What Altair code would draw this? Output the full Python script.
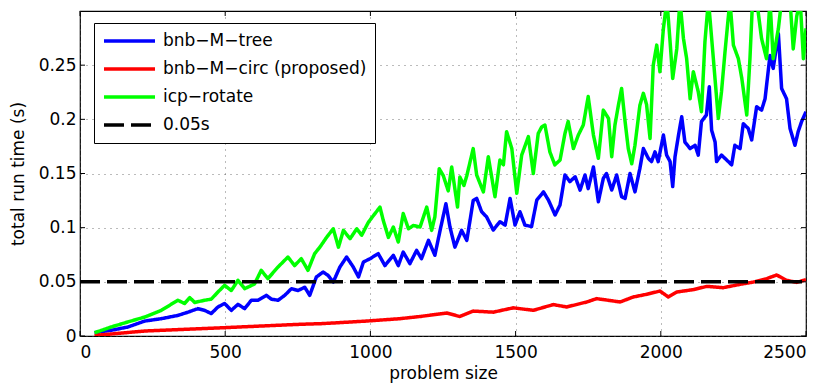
import altair as alt
import pandas as pd

# ---- data ----
tree_x = [50, 108, 165, 223, 280, 337, 372, 406, 429, 452, 475, 498, 521, 544, 567, 590, 613, 642, 659, 682,
          705, 728, 751, 774, 791, 814, 837, 854, 872, 895, 918, 941, 959, 976, 999, 1027, 1050, 1079, 1096,
          1113, 1136, 1159, 1176, 1200, 1222, 1240, 1260, 1274, 1291, 1314, 1332, 1354, 1366, 1383, 1400,
          1423, 1446, 1464, 1481, 1498, 1515, 1532, 1555, 1573, 1596, 1613, 1636, 1653, 1670, 1687, 1705,
          1722, 1739, 1750, 1768, 1785, 1802, 1813, 1831, 1848, 1865, 1877, 1894, 1911, 1928, 1940, 1957,
          1968, 1980, 1991, 2009, 2020, 2032, 2041, 2049, 2061, 2072, 2083, 2101, 2118, 2129, 2140, 2157,
          2167, 2175, 2187, 2192, 2209, 2227, 2244, 2255, 2273, 2284, 2301, 2313, 2330, 2347, 2359, 2376,
          2387, 2405, 2416, 2433, 2445, 2462, 2473, 2485, 2500]
tree_y = [0.003, 0.0053, 0.0083, 0.0138, 0.016, 0.019, 0.022, 0.0253, 0.0237, 0.0207, 0.0268, 0.030, 0.0237,
          0.0292, 0.0253, 0.033, 0.033, 0.0375, 0.034, 0.033, 0.0375, 0.0437, 0.042, 0.045, 0.0375, 0.0545,
          0.059, 0.056, 0.0498, 0.0637, 0.0729, 0.0637, 0.0545, 0.0683, 0.0714, 0.076, 0.065, 0.0745, 0.065,
          0.0775, 0.0668, 0.079, 0.0714, 0.0883, 0.0745, 0.0975, 0.122, 0.1006, 0.082, 0.0975, 0.0883, 0.125,
          0.127, 0.1147, 0.110, 0.0978, 0.1055, 0.1024, 0.127, 0.1024, 0.1147, 0.1024, 0.101, 0.1255, 0.133,
          0.1255, 0.1117, 0.121, 0.1486, 0.1425, 0.147, 0.1347, 0.1486, 0.136, 0.156, 0.124, 0.1455, 0.150,
          0.1347, 0.1486, 0.1286, 0.127, 0.150, 0.133, 0.1547, 0.173, 0.164, 0.161, 0.170, 0.161, 0.1855,
          0.167, 0.161, 0.138, 0.1655, 0.1855, 0.2024, 0.179, 0.173, 0.176, 0.167, 0.198, 0.204, 0.230, 0.190,
          0.179, 0.161, 0.167, 0.1624, 0.158, 0.176, 0.173, 0.196, 0.1916, 0.181, 0.2116, 0.2085, 0.219, 0.259,
          0.247, 0.279, 0.2285, 0.219, 0.1916, 0.176, 0.1886, 0.198, 0.207]

circ_x = [50, 223, 498, 682, 758, 830, 872, 987, 1102, 1171, 1263, 1308, 1354, 1423, 1492, 1561, 1630, 1676,
          1745, 1779, 1860, 1905, 1951, 1997, 2026, 2055, 2112, 2158, 2215, 2273, 2319, 2365, 2399, 2433,
          2468, 2500]
circ_y = [0.0005, 0.0046, 0.0077, 0.0099, 0.0108, 0.0114, 0.012, 0.0138, 0.016, 0.018, 0.0212, 0.018, 0.023,
          0.022, 0.026, 0.0237, 0.029, 0.0268, 0.0314, 0.0345, 0.0314, 0.036, 0.0385, 0.0415, 0.036, 0.0406,
          0.0428, 0.0458, 0.0446, 0.0477, 0.0498, 0.053, 0.0563, 0.0514, 0.0495, 0.052]

icp_x = [50, 107, 165, 223, 280, 337, 360, 378, 395, 429, 452, 475, 498, 521, 544, 567, 601, 624, 647, 682,
         716, 739, 762, 785, 808, 826, 849, 872, 890, 907, 930, 953, 970, 993, 1010, 1033, 1044, 1062, 1079,
         1096, 1113, 1131, 1148, 1171, 1194, 1211, 1222, 1237, 1251, 1268, 1280, 1300, 1308, 1322, 1332, 1354,
         1366, 1389, 1406, 1429, 1446, 1458, 1469, 1487, 1504, 1521, 1544, 1561, 1578, 1590, 1601, 1618, 1635,
         1653, 1670, 1681, 1699, 1716, 1733, 1750, 1768, 1785, 1802, 1820, 1831, 1842, 1854, 1865, 1877, 1888,
         1900, 1911, 1928, 1940, 1951, 1963, 1974, 1986, 1997, 2009, 2021, 2032, 2041, 2055, 2066, 2078, 2089,
         2101, 2112, 2129, 2140, 2152, 2164, 2181, 2198, 2209, 2221, 2238, 2250, 2267, 2279, 2296, 2307, 2316,
         2330, 2347, 2364, 2376, 2387, 2405, 2416, 2445, 2456, 2468, 2480, 2491, 2500]
icp_y = [0.003, 0.0083, 0.013, 0.0175, 0.0237, 0.033, 0.030, 0.0354, 0.031, 0.033, 0.034, 0.0406, 0.0468, 0.042,
         0.0514, 0.0437, 0.048, 0.0606, 0.053, 0.0637, 0.0729, 0.065, 0.0714, 0.0606, 0.076, 0.082, 0.091, 0.099,
         0.082, 0.0975, 0.0898, 0.099, 0.093, 0.105, 0.111, 0.119, 0.107, 0.091, 0.1006, 0.0867, 0.113, 0.099,
         0.102, 0.1006, 0.119, 0.0975, 0.11, 0.1544, 0.148, 0.134, 0.156, 0.119, 0.1467, 0.139, 0.148, 0.173,
         0.1486, 0.133, 0.1655, 0.1286, 0.1624, 0.158, 0.1886, 0.173, 0.1317, 0.167, 0.184, 0.150, 0.187, 0.193,
         0.1947, 0.170, 0.158, 0.1624, 0.187, 0.198, 0.173, 0.1855, 0.1947, 0.221, 0.1855, 0.164, 0.2085, 0.2008,
         0.1655, 0.1947, 0.213, 0.2285, 0.198, 0.173, 0.159, 0.176, 0.213, 0.224, 0.2137, 0.1824, 0.25, 0.2685,
         0.244, 0.284, 0.31, 0.2716, 0.2377, 0.265, 0.31, 0.2746, 0.256, 0.219, 0.244, 0.2255, 0.207, 0.2716,
         0.31, 0.256, 0.2008, 0.2255, 0.262, 0.31, 0.2685, 0.256, 0.2377, 0.204, 0.256, 0.31, 0.31, 0.2746,
         0.256, 0.31, 0.256, 0.284, 0.31, 0.31, 0.265, 0.295, 0.31, 0.256, 0.284]

thresh_x = [0, 2500]
thresh_y = [0.05, 0.05]

series_names = ["bnb\u2212M\u2212tree", "bnb\u2212M\u2212circ (proposed)", "icp\u2212rotate", "0.05s"]
series_colors = ["#0000ff", "#ff0000", "#00ff00", "#000000"]
series_dash = [[1, 0], [1, 0], [1, 0], [20, 7]]

x_ticks = [0, 500, 1000, 1500, 2000, 2500]
y_ticks = [0, 0.05, 0.1, 0.15, 0.2, 0.25]

rows = []
for name, xs, ys in zip(series_names, [tree_x, circ_x, icp_x, thresh_x], [tree_y, circ_y, icp_y, thresh_y]):
    for i, (a, b) in enumerate(zip(xs, ys)):
        rows.append({"series": name, "x": a, "y": b, "i": i})
df = pd.DataFrame(rows)

FONT = "DejaVu Sans"
W, H = 726, 325

xscale = alt.Scale(domain=[0, 2500], nice=False, zero=False)
yscale = alt.Scale(domain=[0, 0.3], nice=False, zero=False)

legend = alt.Legend(
    title=None, orient="none", legendX=14, legendY=12,
    symbolType="stroke", symbolSize=2601, symbolStrokeWidth=3.5,
    labelFont=FONT, labelFontSize=17, labelColor="black", labelLimit=0,
    labelOffset=6, clipHeight=20, rowPadding=8, padding=8,
    strokeColor="black", fillColor="white",
)

lines = alt.Chart(df).mark_line(strokeWidth=3.5, clip=True, strokeJoin="round").encode(
    x=alt.X("x:Q", scale=xscale,
            axis=alt.Axis(values=x_ticks, format="d", title="problem size", grid=True,
                          tickSize=0, labelPadding=8, titlePadding=5)),
    y=alt.Y("y:Q", scale=yscale,
            axis=alt.Axis(values=y_ticks, format="~g", title="total run time (s)", grid=True,
                          tickSize=0, labelPadding=4, titlePadding=11)),
    color=alt.Color("series:N", scale=alt.Scale(domain=series_names, range=series_colors), legend=legend),
    strokeDash=alt.StrokeDash("series:N", scale=alt.Scale(domain=series_names, range=series_dash), legend=legend),
    order="i:Q",
)

xt = pd.DataFrame({"t": x_ticks})
yt = pd.DataFrame({"t": y_ticks})
tick_bottom = alt.Chart(xt).mark_rule(color="black", strokeWidth=1).encode(
    x=alt.X("t:Q", scale=xscale), y=alt.value(H), y2=alt.value(H - 5))
tick_top = alt.Chart(xt).mark_rule(color="black", strokeWidth=1).encode(
    x=alt.X("t:Q", scale=xscale), y=alt.value(0), y2=alt.value(5))
tick_left = alt.Chart(yt).mark_rule(color="black", strokeWidth=1).encode(
    y=alt.Y("t:Q", scale=yscale), x=alt.value(0), x2=alt.value(5))
tick_right = alt.Chart(yt).mark_rule(color="black", strokeWidth=1).encode(
    y=alt.Y("t:Q", scale=yscale), x=alt.value(W), x2=alt.value(W - 5))

chart = alt.layer(lines, tick_bottom, tick_top, tick_left, tick_right).properties(
    width=W, height=H,
    autosize=alt.AutoSizeParams(type="none"),
    padding={"left": 80, "top": 11, "right": 25, "bottom": 51},
    background="white",
).configure_view(
    stroke="black", strokeWidth=1.2,
).configure_axis(
    labelFont=FONT, labelFontSize=17, labelColor="black",
    titleFont=FONT, titleFontSize=17, titleColor="black", titleFontWeight="normal",
    domain=False, gridColor="#555555", gridDash=[1, 5], gridWidth=1, gridOpacity=0.8,
)

chart.save("out.html", embed_options={"renderer": "svg", "actions": False})
